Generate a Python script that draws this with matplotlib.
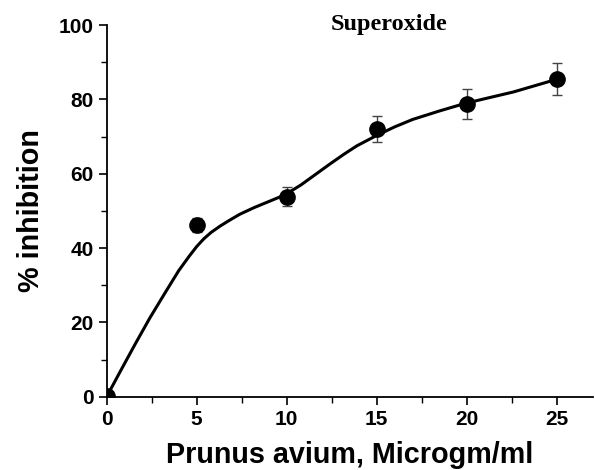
import matplotlib.pyplot as plt
from matplotlib.ticker import MultipleLocator

# measured points with error bars
conc = [0, 5, 10, 15, 20, 25]
inhibition = [0.3, 46.2, 53.8, 71.9, 78.8, 85.6]
err = [0, 2.0, 2.5, 3.5, 4.0, 4.3]

# fitted curve
curve_x = [0, 0.8, 1.6, 2.4, 3.2, 4.0, 4.6, 5.0, 5.4, 5.8, 6.3, 6.8, 7.4, 8.2, 9.0, 9.9,
           10.8, 11.6, 12.4, 13.2, 13.9, 15.0, 16.0, 17.0, 18.5, 19.9, 21.2, 22.6, 23.8, 25.0]
curve_y = [0, 7.2, 14.3, 21.2, 27.6, 33.9, 37.9, 40.4, 42.5, 44.2, 45.9, 47.4, 49.1, 50.9, 52.5, 54.3,
           57.0, 59.8, 62.6, 65.3, 67.5, 70.3, 72.6, 74.6, 76.9, 78.9, 80.4, 82.0, 83.7, 85.4]

plt.rcParams['font.family'] = ['Liberation Sans', 'DejaVu Sans']

fig = plt.figure(figsize=(5.95, 4.7), dpi=100)
ax = fig.add_axes([0.1793, 0.156, 0.8168, 0.7907])

ax.plot(curve_x, curve_y, color='black', lw=2.2, zorder=2)
ax.errorbar(conc, inhibition, yerr=err, fmt='none', ecolor='#444444',
            elinewidth=1, capsize=3.5, capthick=1, zorder=1)
ax.plot(conc, inhibition, 'o', color='black', ms=11, zorder=3)

ax.set_xlim(0, 27)
ax.set_ylim(0, 100)
ax.xaxis.set_major_locator(MultipleLocator(5))
ax.xaxis.set_minor_locator(MultipleLocator(2.5))
ax.yaxis.set_major_locator(MultipleLocator(20))
ax.yaxis.set_minor_locator(MultipleLocator(10))

for s in ['top', 'right']:
    ax.spines[s].set_visible(False)
for s in ['left', 'bottom']:
    ax.spines[s].set_linewidth(1.3)

ax.tick_params(which='major', direction='out', length=6, width=1.2, labelsize=15)
ax.tick_params(which='minor', direction='out', length=4, width=1)
for lab in ax.get_xticklabels() + ax.get_yticklabels():
    lab.set_fontweight('bold')

ax.set_xlabel('Prunus avium, Microgm/ml', fontsize=20.7, fontweight='bold', labelpad=9)
ax.set_ylabel('% inhibition', fontsize=20.7, fontweight='bold', labelpad=10)

fig.text(0.654, 0.947, 'Superoxide', family='Liberation Serif', fontweight='bold',
         fontsize=17.5, ha='center', va='center')

fig.savefig('out.png', dpi=100)
